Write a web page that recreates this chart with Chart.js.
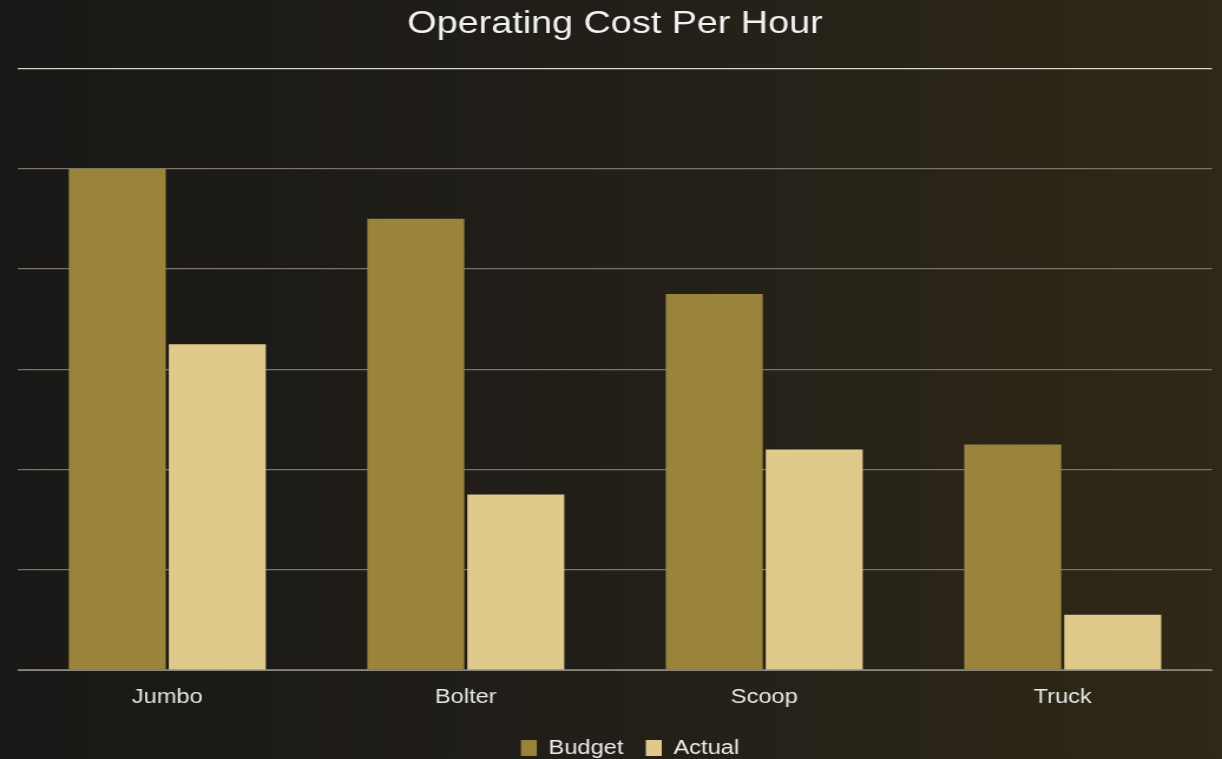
<!DOCTYPE html>
<html>
<head>
<meta charset="utf-8">
<script src="https://cdn.jsdelivr.net/npm/chart.js@4/dist/chart.umd.min.js"></script>
<style>
  html,body{margin:0;padding:0;}
  body{width:1222px;height:759px;background:linear-gradient(90deg,#191816 0%,#221f19 50%,#2f2816 100%);overflow:hidden;}
  /* the original chart looks horizontally stretched, so draw narrower and stretch */
  #wrap{width:1036px;height:767px;transform:scaleX(1.17954);transform-origin:0 0;}
</style>
</head>
<body>
<div id="wrap"><canvas id="c"></canvas></div>
<script>
// data
const categories = ["Jumbo", "Bolter", "Scoop", "Truck"];
const budget = [5.0, 4.5, 3.75, 2.25];
const actual = [3.25, 1.75, 2.2, 0.55];
const yMax = 6;

const font = "'Liberation Sans', Arial, sans-serif";

// legend sits a bit right of centre and a bit lower in the original
const legendShift = {
  id: "legendShift",
  afterLayout(chart) {
    const l = chart.legend;
    l.left += 12.7; l.right += 12.7;
    l.top += 3; l.bottom += 3;
  }
};

new Chart(document.getElementById("c"), {
  type: "bar",
  data: {
    labels: categories,
    datasets: [
      { label: "Budget", data: budget, backgroundColor: "#9a833a" },
      { label: "Actual", data: actual, backgroundColor: "#dfca8c" }
    ]
  },
  options: {
    responsive: true,
    maintainAspectRatio: false,
    animation: false,
    layout: { padding: { left: 15.3, right: 8.5, top: 0, bottom: 2 } },
    datasets: { bar: { categoryPercentage: 0.67, barPercentage: 0.97 } },
    plugins: {
      title: {
        display: true, text: "Operating Cost Per Hour", color: "#f2f2f2",
        font: { family: font, size: 32, weight: "normal" },
        padding: { top: 5, bottom: 25 }
      },
      legend: {
        position: "bottom",
        labels: {
          color: "#ececec", boxWidth: 13.5, boxHeight: 16, padding: 19,
          font: { family: font, size: 20 }
        }
      },
      tooltip: { enabled: false }
    },
    scales: {
      x: {
        grid: { display: false },
        border: { color: "#8a8780", width: 1 },
        ticks: { color: "#e6e6e6", padding: 7, font: { family: font, size: 20 } }
      },
      y: {
        min: 0, max: yMax,
        ticks: { display: false, stepSize: 1 },
        border: { display: false },
        grid: {
          drawTicks: false,
          lineWidth: 1.2,
          color: ctx => ctx.tick && ctx.tick.value === yMax ? "#d8d6d0" : "#77746c"
        }
      }
    }
  },
  plugins: [legendShift]
});
</script>
</body>
</html>
